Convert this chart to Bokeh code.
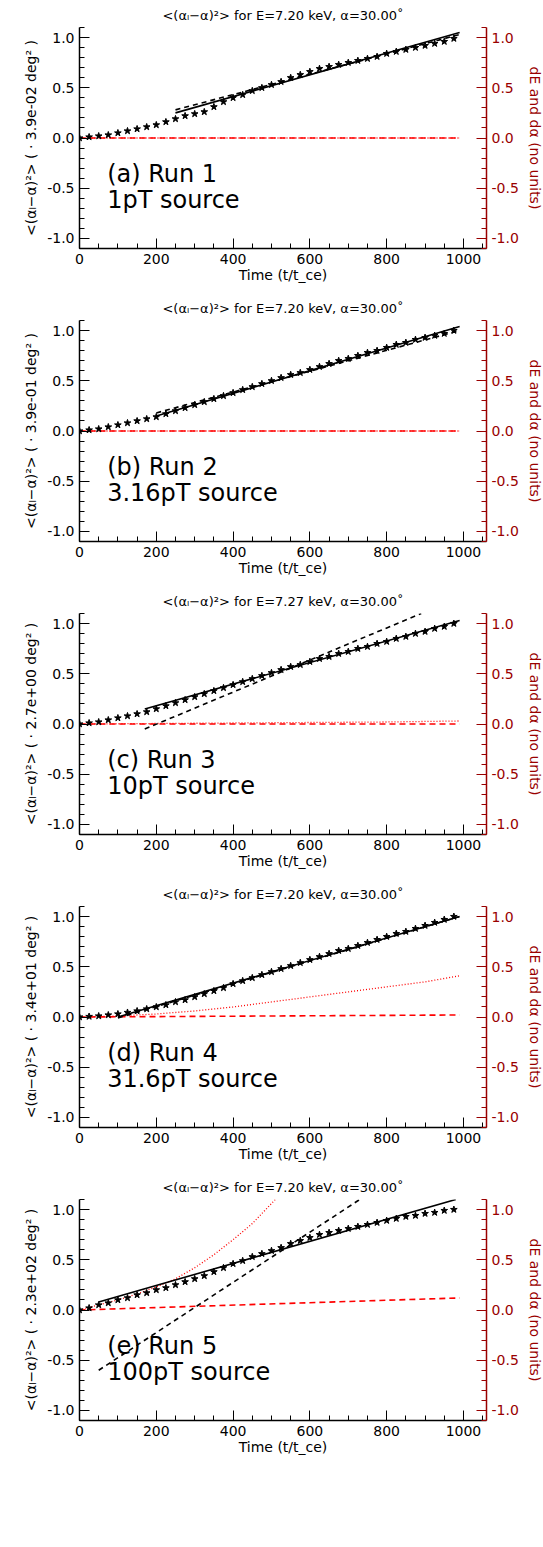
from bokeh.plotting import figure
from bokeh.models import Range1d, LinearAxis, FixedTicker, Label, Title, PrintfTickFormatter
from bokeh.layouts import column
from bokeh.embed import file_html
from bokeh.resources import INLINE

# common time grid for the stars
t_stars = list(range(0, 1000, 25))

stars_a = [0, .01, .02, .03, .05, .07, .09, .11, .13, .16, .19, .22, .24, .26, .31, .36, .40, .43, .47, .50,
           .53, .56, .60, .63, .66, .69, .71, .73, .75, .77, .79, .81, .84, .86, .88, .90, .92, .94, .96, .99]
stars_b = [0, .01, .02, .04, .06, .08, .10, .12, .14, .17, .20, .23, .26, .29, .32, .35, .38, .41, .44, .47,
           .50, .53, .56, .58, .61, .64, .67, .70, .72, .75, .78, .80, .83, .86, .88, .91, .93, .95, .97, 1.0]
stars_c = [0, .01, .02, .04, .06, .08, .10, .12, .15, .18, .21, .24, .27, .30, .33, .36, .39, .42, .45, .48,
           .51, .54, .57, .59, .62, .65, .67, .70, .72, .75, .77, .80, .82, .85, .87, .90, .92, .95, .97, 1.0]
stars_d = [0, .005, .01, .02, .03, .045, .06, .08, .10, .12, .15, .17, .20, .23, .26, .29, .33, .36, .39, .42,
           .45, .48, .51, .54, .57, .60, .63, .66, .68, .71, .74, .77, .80, .83, .85, .88, .91, .94, .97, 1.0]
stars_e = [0, .02, .05, .07, .10, .12, .15, .17, .20, .22, .25, .28, .31, .34, .38, .42, .46, .49, .53, .56,
           .59, .62, .66, .69, .72, .75, .77, .79, .81, .83, .85, .87, .89, .91, .93, .94, .96, .97, .99, 1.0]

# fits: (x0, x1, y0, y1)
solid_fits = [(250, 990, .25, 1.05), (200, 990, .15, 1.04), (170, 990, .15, 1.03), (100, 990, 0.0, 1.0), (50, 980, .08, 1.1)]
dash_fits = [(250, 990, .28, 1.03), (200, 990, .18, 1.0), (170, 890, -.05, 1.1), (100, 990, -.01, 1.0), (50, 730, -.6, 1.1)]

# red curves
red_dash_end = [0.0, 0.0, 0.0, 0.02, 0.12]
red_dot_t = [[0, 990], [0, 990],
             [0, 200, 400, 600, 800, 990],
             [0, 100, 200, 300, 400, 500, 600, 700, 800, 900, 990],
             [0, 50, 100, 150, 200, 250, 300, 350, 400, 450, 510]]
red_dot_y = [[0, 0], [0, 0],
             [0, .005, .01, .015, .02, .03],
             [0, .01, .03, .06, .10, .15, .20, .25, .30, .35, .41],
             [0, .05, .10, .16, .23, .31, .42, .55, .70, .86, 1.1]]

titles = ["E=7.20", "E=7.20", "E=7.27", "E=7.20", "E=7.20"]
scales = ["3.9e-02", "3.9e-01", "2.7e+00", "3.4e+01", "2.3e+02"]
labels1 = ["(a) Run 1", "(b) Run 2", "(c) Run 3", "(d) Run 4", "(e) Run 5"]
labels2 = ["1pT source", "3.16pT source", "10pT source", "31.6pT source", "100pT source"]
all_stars = [stars_a, stars_b, stars_c, stars_d, stars_e]

DARKRED = "#990000"
FONT = "DejaVu Sans"


def style_axis(ax, color):
    ax.axis_line_color = color
    ax.axis_line_width = 1.5
    ax.major_tick_line_color = color
    ax.minor_tick_line_color = color
    ax.major_label_text_color = color
    ax.axis_label_text_color = color
    ax.major_tick_in = 10
    ax.major_tick_out = 0
    ax.minor_tick_in = 5
    ax.minor_tick_out = 0
    ax.major_label_text_font = FONT
    ax.major_label_text_font_size = "14px"
    ax.axis_label_text_font = FONT
    ax.axis_label_text_font_size = "14px"
    ax.axis_label_text_font_style = "normal"


def make_panel(i):
    p = figure(frame_width=407, frame_height=221, output_backend="svg", toolbar_location=None,
               x_range=Range1d(0, 1060), y_range=Range1d(-1.1, 1.1),
               min_border_left=79, min_border_right=0, min_border_top=0, min_border_bottom=0)
    p.title = Title(text="<(αₗ−α)²> for " + titles[i] + " keV, α=30.00˚", align="center",
                    text_font=FONT, text_font_size="13px", text_font_style="normal",
                    text_color="black", standoff=10)
    p.outline_line_color = None
    p.grid.visible = False
    p.extra_y_ranges = {"r": Range1d(-1.1, 1.1)}
    right = LinearAxis(y_range_name="r", axis_label="dE and dα (no units)")
    p.add_layout(right, "right")

    p.xaxis.axis_label = "Time (t/t_ce)"
    p.xaxis.ticker = FixedTicker(ticks=[0, 200, 400, 600, 800, 1000],
                                 minor_ticks=list(range(0, 1060, 50)))
    p.yaxis[0].axis_label = "<(αₗ−α)²> ( · " + scales[i] + " deg² )"
    for ax in [p.yaxis[0], right]:
        ax.ticker = FixedTicker(ticks=[-1, -0.5, 0, 0.5, 1],
                                minor_ticks=[round(-1.1 + 0.1 * k, 2) for k in range(23)])
        ax.formatter = PrintfTickFormatter(format="%.1f")
    style_axis(p.xaxis[0], "black")
    style_axis(p.yaxis[0], "black")
    style_axis(right, DARKRED)
    p.xaxis.axis_label_standoff = 0

    p.line([0, 990], [0, red_dash_end[i]], line_color="red", line_dash="6 4", line_width=1.6)
    p.line(red_dot_t[i], red_dot_y[i], line_color="red", line_dash="1 2", line_width=1.3)
    s = solid_fits[i]
    p.line([s[0], s[1]], [s[2], s[3]], line_color="black", line_width=1.6)
    d = dash_fits[i]
    p.line([d[0], d[1]], [d[2], d[3]], line_color="black", line_dash="5 4", line_width=1.6)
    p.scatter(t_stars, all_stars[i], marker="star", size=7, color="black")

    p.add_layout(Label(x=72, y=-0.5, text=labels1[i], text_font=FONT, text_font_size="24px", text_color="black"))
    p.add_layout(Label(x=72, y=-0.76, text=labels2[i], text_font=FONT, text_font_size="24px", text_color="black"))
    return p


layout = column(*[make_panel(i) for i in range(5)], spacing=8)
open("out.html", "w").write(file_html(layout, INLINE))
